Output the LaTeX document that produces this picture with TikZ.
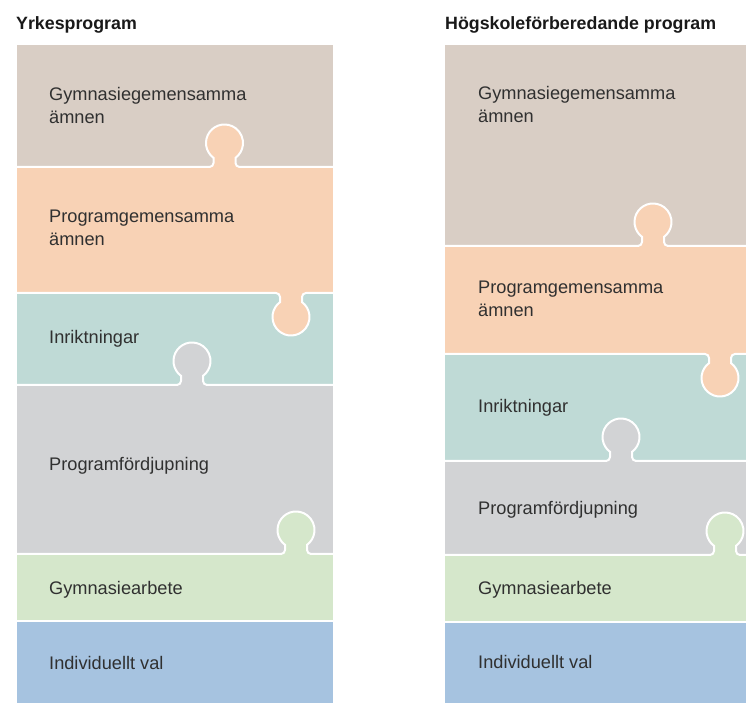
\documentclass[tikz,border=0pt]{standalone}
\usepackage{fontspec}
\setmainfont{Liberation Sans}
\definecolor{cbeige}{RGB}{217,206,197}
\definecolor{corange}{RGB}{248,210,181}
\definecolor{cteal}{RGB}{191,218,214}
\definecolor{cgrey}{RGB}{210,211,213}
\definecolor{cgreen}{RGB}{213,231,203}
\definecolor{cblue}{RGB}{166,195,224}
\definecolor{ctext}{RGB}{48,48,48}
% knob pointing up (screen) from boundary at height #2, centred at x=#1
\newcommand\upknob[2]{-- (#1-15,#2) arc[start angle=270,end angle=360,radius=4] -- (#1-11,#2+9.13) arc[start angle=233.5,end angle=-53.5,radius=18.5] -- (#1+11,#2+4) arc[start angle=180,end angle=270,radius=4]}
% knob pointing down (screen)
\newcommand\downknob[2]{-- (#1-15,#2) arc[start angle=90,end angle=0,radius=4] -- (#1-11,#2-9.13) arc[start angle=126.5,end angle=413.5,radius=18.5] -- (#1+11,#2-4) arc[start angle=180,end angle=90,radius=4]}
\tikzset{
  seam/.style={draw=white,line width=2pt},
  lbl/.style={font=\fontsize{18.2}{23}\selectfont,text=ctext,inner sep=0pt,anchor=base west},
  lbltwo/.style={font=\fontsize{18.2}{23}\selectfont,text=ctext,inner sep=0pt,anchor=north west,align=left},
  ttl/.style={font=\fontsize{17.8}{20}\selectfont\bfseries,text=black!90,inner sep=0pt,anchor=base west}
}
\begin{document}
\begin{tikzpicture}[x=1pt,y=1pt]
\useasboundingbox (0,0) rectangle (746,703);
% ---------------- left column (x 17..333)
\fill[cbeige]  (17,703-45)  rectangle (333,703-167);
\fill[corange] (17,703-167) rectangle (333,703-293);
\fill[cteal]   (17,703-293) rectangle (333,703-385);
\fill[cgrey]   (17,703-385) rectangle (333,703-554);
\fill[cgreen]  (17,703-554) rectangle (333,703-621);
\fill[cblue]   (17,703-621) rectangle (333,703-703);
\fill[corange] (224.5-15,703-167) \upknob{224.5}{703-167} -- cycle;
\fill[corange] (291-15,703-293) \downknob{291}{703-293} -- cycle;
\fill[cgrey]   (192-15,703-385) \upknob{192}{703-385} -- cycle;
\fill[cgreen]  (296-15,703-554) \upknob{296}{703-554} -- cycle;
\path[seam] (17,703-167) \upknob{224.5}{703-167} -- (333,703-167);
\path[seam] (17,703-293) \downknob{291}{703-293} -- (333,703-293);
\path[seam] (17,703-385) \upknob{192}{703-385} -- (333,703-385);
\path[seam] (17,703-554) \upknob{296}{703-554} -- (333,703-554);
\path[seam] (17,703-621) -- (333,703-621);
% ---------------- right column (x 445..746)
\fill[cbeige]  (445,703-45)  rectangle (746,703-246);
\fill[corange] (445,703-246) rectangle (746,703-354);
\fill[cteal]   (445,703-354) rectangle (746,703-461);
\fill[cgrey]   (445,703-461) rectangle (746,703-555);
\fill[cgreen]  (445,703-555) rectangle (746,703-622);
\fill[cblue]   (445,703-622) rectangle (746,703-703);
\fill[corange] (653-15,703-246) \upknob{653}{703-246} -- cycle;
\fill[corange] (720-15,703-354) \downknob{720}{703-354} -- cycle;
\fill[cgrey]   (621-15,703-461) \upknob{621}{703-461} -- cycle;
\fill[cgreen]  (725-15,703-555) \upknob{725}{703-555} -- cycle;
\path[seam] (445,703-246) \upknob{653}{703-246} -- (746,703-246);
\path[seam] (445,703-354) \downknob{720}{703-354} -- (746,703-354);
\path[seam] (445,703-461) \upknob{621}{703-461} -- (746,703-461);
\path[seam] (445,703-555) \upknob{725}{703-555} -- (746,703-555);
\path[seam] (445,703-622) -- (746,703-622);
% ---------------- titles
\node[ttl] (t1) at (16,703-30) {Yrkesprogram};
\node[ttl] (t2) at (445,703-30) {Högskoleförberedande program};
% ---------------- labels left
\node[lbltwo] (l1) at (49,703-87) {Gymnasiegemensamma\\ämnen};
\node[lbltwo] (l2) at (49,703-210) {Programgemensamma\\ämnen};
\node[lbl] (l3) at (49,703-344) {Inriktningar};
\node[lbl] (l4) at (49,703-471) {Programfördjupning};
\node[lbl] (l5) at (49,703-595) {Gymnasiearbete};
\node[lbl] (l6) at (49,703-670) {Individuellt val};
% ---------------- labels right
\node[lbltwo] (r1) at (478,703-86) {Gymnasiegemensamma\\ämnen};
\node[lbltwo] (r2) at (478,703-281) {Programgemensamma\\ämnen};
\node[lbl] (r3) at (478,703-413) {Inriktningar};
\node[lbl] (r4) at (478,703-515) {Programfördjupning};
\node[lbl] (r5) at (478,703-595) {Gymnasiearbete};
\node[lbl] (r6) at (478,703-669) {Individuellt val};
\end{tikzpicture}
\end{document}
